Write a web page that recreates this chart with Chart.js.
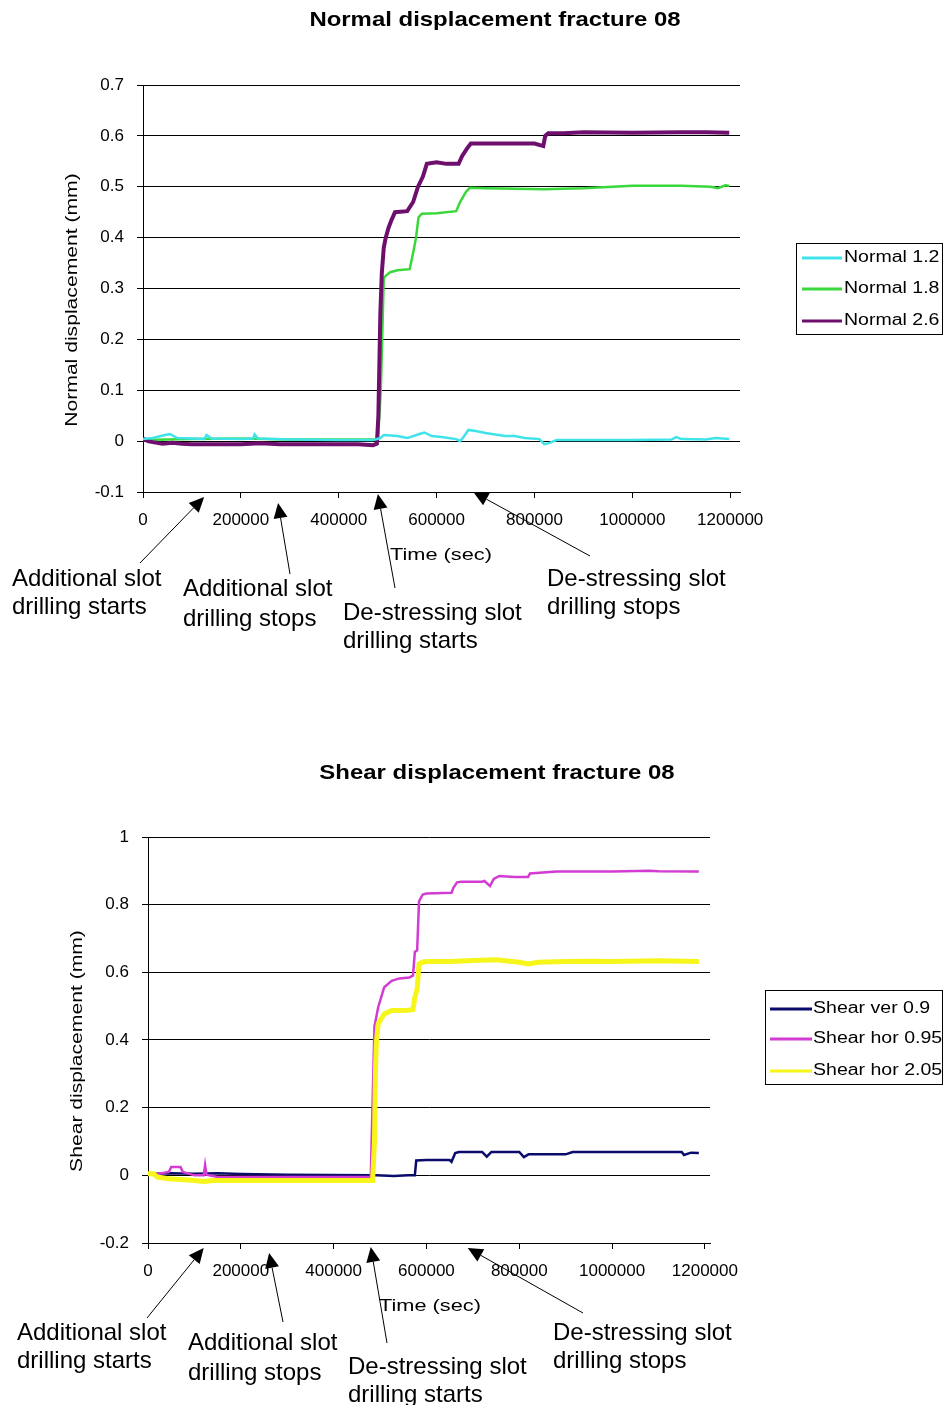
<!DOCTYPE html>
<html>
<head>
<meta charset="utf-8">
<script src="https://cdn.jsdelivr.net/npm/chart.js@4.4.0/dist/chart.umd.min.js"></script>
<style>
  html, body { margin: 0; padding: 0; background: #fff; }
  body { width: 944px; height: 1405px; position: relative; overflow: hidden; }
  .box { position: absolute; left: 0; width: 944px; }
  #box1 { top: 0; height: 700px; }
  #box2 { top: 700px; height: 705px; }
</style>
</head>
<body>
<div class="box" id="box1"><canvas id="normalChart" width="944" height="700"></canvas></div>
<div class="box" id="box2"><canvas id="shearChart" width="944" height="705"></canvas></div>
<script>
// ---------------------------
// Data: fracture 08, time (sec) vs displacement (mm)
// ---------------------------

const n12Time = [0, 20000, 45000, 55000, 70000, 100000, 125000, 130000, 140000, 200000, 225000, 228000, 235000, 300000, 400000, 470000, 485000, 492000, 520000, 540000, 565000, 575000, 590000, 610000, 640000, 648000, 655000, 665000, 680000, 700000, 740000, 760000, 780000, 810000, 820000, 830000, 845000, 900000, 1000000, 1080000, 1090000, 1100000, 1150000, 1170000, 1198000];
const n12Disp = [0.004, 0.006, 0.012, 0.014, 0.006, 0.005, 0.004, 0.012, 0.005, 0.004, 0.005, 0.013, 0.005, 0.003, 0.002, 0.002, 0.006, 0.012, 0.01, 0.006, 0.014, 0.017, 0.01, 0.008, 0.004, 0.0, 0.008, 0.022, 0.02, 0.016, 0.01, 0.01, 0.006, 0.004, -0.006, -0.004, 0.002, 0.002, 0.002, 0.003, 0.008, 0.004, 0.003, 0.006, 0.004];

const n18Time = [0, 50000, 100000, 200000, 300000, 400000, 480000, 486000, 492000, 496000, 505000, 520000, 545000, 552000, 558000, 563000, 570000, 600000, 640000, 648000, 660000, 668000, 700000, 760000, 820000, 900000, 960000, 1000000, 1100000, 1160000, 1175000, 1190000, 1198000];
const n18Disp = [0.002, 0.003, 0.004, 0.005, 0.003, 0.003, 0.003, 0.1, 0.32, 0.325, 0.332, 0.336, 0.338, 0.37, 0.4, 0.44, 0.447, 0.448, 0.452, 0.47, 0.49, 0.498, 0.497, 0.496, 0.495, 0.497, 0.5, 0.502, 0.502, 0.5, 0.497, 0.503, 0.502];

const n26Time = [0, 10000, 20000, 40000, 60000, 80000, 100000, 130000, 160000, 200000, 240000, 280000, 320000, 380000, 440000, 470000, 478000, 481000, 483000, 485000, 488000, 492000, 496000, 502000, 508000, 515000, 540000, 552000, 562000, 572000, 580000, 600000, 620000, 645000, 652000, 662000, 670000, 700000, 760000, 800000, 818000, 822000, 828000, 860000, 900000, 1000000, 1100000, 1150000, 1198000];
const n26Disp = [0.005, 0.0, -0.002, -0.005, -0.003, -0.005, -0.006, -0.006, -0.006, -0.006, -0.004, -0.006, -0.006, -0.006, -0.006, -0.008, -0.005, 0.05, 0.15, 0.25, 0.33, 0.38, 0.4, 0.42, 0.435, 0.45, 0.452, 0.47, 0.5, 0.52, 0.545, 0.548, 0.545, 0.545, 0.56, 0.575, 0.585, 0.585, 0.585, 0.585, 0.58, 0.6, 0.605, 0.605, 0.607, 0.606, 0.607, 0.607, 0.606];

const sv09Time = [0, 50000, 100000, 150000, 200000, 300000, 484000, 492000, 530000, 560000, 575000, 578000, 600000, 650000, 654000, 662000, 670000, 720000, 730000, 740000, 800000, 810000, 820000, 900000, 915000, 1000000, 1150000, 1155000, 1170000, 1187000];
const sv09Disp = [0.004, 0.006, 0.005, 0.006, 0.004, 0.002, 0.0, 0.0, -0.002, 0.0, 0.0, 0.044, 0.045, 0.045, 0.04, 0.066, 0.069, 0.069, 0.055, 0.069, 0.069, 0.054, 0.062, 0.062, 0.069, 0.069, 0.069, 0.06, 0.067, 0.066];

const sh095Time = [0, 20000, 45000, 50000, 70000, 75000, 87000, 100000, 120000, 123000, 126000, 150000, 300000, 480000, 488000, 496000, 509000, 525000, 542000, 563000, 571000, 575000, 580000, 584000, 592000, 600000, 654000, 658000, 666000, 675000, 720000, 725000, 737000, 745000, 757000, 790000, 819000, 823000, 873000, 881000, 1000000, 1080000, 1100000, 1187000];
const sh095Disp = [0.005, 0.004, 0.01, 0.025, 0.025, 0.01, 0.005, 0.0, 0.0, 0.03, 0.002, -0.005, -0.005, -0.005, 0.44, 0.497, 0.556, 0.575, 0.582, 0.585, 0.59, 0.66, 0.665, 0.81, 0.83, 0.833, 0.835, 0.85, 0.866, 0.868, 0.868, 0.87, 0.855, 0.876, 0.885, 0.882, 0.882, 0.892, 0.897, 0.898, 0.898, 0.9, 0.899, 0.898];

const sh205Time = [0, 12000, 20000, 45000, 70000, 100000, 120000, 140000, 211000, 300000, 484000, 488000, 490000, 492000, 496000, 509000, 525000, 560000, 571000, 575000, 580000, 584000, 592000, 600000, 650000, 700000, 750000, 800000, 820000, 840000, 900000, 950000, 1000000, 1100000, 1187000];
const sh205Disp = [0.005, 0.005, -0.005, -0.01, -0.012, -0.015, -0.018, -0.015, -0.015, -0.015, -0.015, 0.1, 0.3, 0.39, 0.448, 0.477, 0.487, 0.488, 0.49, 0.526, 0.55, 0.625, 0.63, 0.632, 0.632, 0.635, 0.637, 0.63, 0.625, 0.63, 0.632, 0.633, 0.632, 0.634, 0.632];

const normalLabels = ["Normal 1.2", "Normal 1.8", "Normal 2.6"];
const shearLabels = ["Shear ver 0.9", "Shear hor 0.95", "Shear hor 2.05"];

const timeTicks = [0, 200000, 400000, 600000, 800000, 1000000, 1200000];
const normalTicks = [-0.1, 0, 0.1, 0.2, 0.3, 0.4, 0.5, 0.6, 0.7];
const shearTicks = [-0.2, 0, 0.2, 0.4, 0.6, 0.8, 1];

// drilling events (sec) the arrows point at
const normalEvents = [125000, 276000, 480000, 675000];
const shearEvents = [120000, 261000, 480000, 689000];
const eventTexts = [
  ["Additional slot", "drilling starts"],
  ["Additional slot", "drilling stops"],
  ["De-stressing slot", "drilling starts"],
  ["De-stressing slot", "drilling stops"]
];

const FONT = "'Liberation Sans', Arial, sans-serif";

function pairs(t, v) {
  return t.map((x, i) => ({ x: x, y: v[i] }));
}

function fmtY(v) {
  return String(Number(v.toFixed(1)));
}

// old excel fonts are wider than Arial, so stretch a bit
function wideText(ctx, text, x, y, sx, align, rot) {
  ctx.save();
  ctx.translate(x, y);
  if (rot) ctx.rotate(rot);
  ctx.scale(sx, 1);
  ctx.textAlign = align;
  ctx.fillText(text, 0, 0);
  ctx.restore();
}

// ---------------------------
// Decorations: title, axis titles, legend, event arrows
// ---------------------------

function decorPlugin(d) {
  return {
    id: "decor",
    afterDraw(chart) {
      const ctx = chart.ctx;
      const xs = chart.scales.x;
      ctx.save();
      ctx.fillStyle = "#000";
      ctx.textBaseline = "middle";

      ctx.font = "bold 21px " + FONT;
      wideText(ctx, d.title, d.titleX, d.titleY, 1.14, "center");

      ctx.font = "16px " + FONT;
      wideText(ctx, d.yTitle, d.yTitleX, d.yTitleY, 1.32, "center", -Math.PI / 2);

      ctx.font = "17px " + FONT;
      wideText(ctx, "Time (sec)", d.xTitleX, d.xTitleY, 1.28, "center");

      // legend
      const lg = d.legend;
      ctx.strokeStyle = "#000";
      ctx.lineWidth = 1;
      ctx.strokeRect(lg.x + 0.5, lg.y + 0.5, lg.w, lg.h);
      ctx.font = "16px " + FONT;
      d.labels.forEach((lab, i) => {
        const ds = chart.data.datasets.find(s => s.label === lab);
        const y = lg.rows[i];
        ctx.strokeStyle = ds.borderColor;
        ctx.lineWidth = 3;
        ctx.beginPath();
        ctx.moveTo(lg.lineX0, y);
        ctx.lineTo(lg.lineX1, y);
        ctx.stroke();
        ctx.fillStyle = "#000";
        wideText(ctx, lab, lg.textX, y, 1.22, "left");
      });

      // event texts + arrows
      ctx.font = "24px " + FONT;
      ctx.textAlign = "left";
      ctx.fillStyle = "#000";
      ctx.strokeStyle = "#000";
      d.events.forEach((t, i) => {
        const a = d.arrows[i];
        const tipX = xs.getPixelForValue(t);
        const tipY = a.tipY;
        const ang = Math.atan2(tipY - a.tailY, tipX - a.tailX);
        const hl = 15, hw = 7;
        const bx = tipX - hl * Math.cos(ang), by = tipY - hl * Math.sin(ang);
        ctx.lineWidth = 1;
        ctx.beginPath();
        ctx.moveTo(a.tailX, a.tailY);
        ctx.lineTo(bx, by);
        ctx.stroke();
        ctx.beginPath();
        ctx.moveTo(tipX, tipY);
        ctx.lineTo(bx + hw * Math.sin(ang), by - hw * Math.cos(ang));
        ctx.lineTo(bx - hw * Math.sin(ang), by + hw * Math.cos(ang));
        ctx.closePath();
        ctx.fill();

        const tx = d.texts[i];
        ctx.fillText(eventTexts[i][0], tx.x, tx.y0);
        ctx.fillText(eventTexts[i][1], tx.x, tx.y1);
      });
      ctx.restore();
    }
  };
}

function makeChart(id, datasets, sc, d) {
  const ctx = document.getElementById(id).getContext("2d");
  return new Chart(ctx, {
    type: "line",
    data: { datasets: datasets },
    options: {
      responsive: false,
      animation: false,
      events: [],
      layout: { padding: { left: 0, right: sc.padRight, top: sc.padTop, bottom: 0 } },
      plugins: { legend: { display: false }, title: { display: false }, tooltip: { enabled: false } },
      elements: { point: { radius: 0 }, line: { tension: 0 } },
      scales: {
        x: {
          type: "linear",
          min: 0,
          max: sc.xMax,
          afterFit: s => { s.height = sc.xHeight; },
          afterBuildTicks: s => { s.ticks = timeTicks.map(v => ({ value: v })); },
          grid: { drawOnChartArea: false, drawTicks: true, tickLength: 6, color: "#000", tickColor: "#000" },
          border: { display: true, color: "#000", width: 1 },
          ticks: {
            autoSkip: false,
            maxRotation: 0,
            padding: 12,
            color: "#000",
            font: { family: FONT, size: 17 },
            callback: v => String(v)
          }
        },
        y: {
          min: sc.yMin,
          max: sc.yMax,
          afterFit: s => { s.width = sc.yWidth; },
          afterBuildTicks: s => { s.ticks = sc.yTicks.map(v => ({ value: v })); },
          grid: { color: "#000", lineWidth: 1, drawTicks: true, tickLength: 6, tickColor: "#000" },
          border: { display: true, color: "#000", width: 1 },
          ticks: {
            autoSkip: false,
            padding: 13,
            color: "#000",
            font: { family: FONT, size: 17 },
            callback: v => fmtY(v)
          }
        }
      }
    },
    plugins: [decorPlugin(d)]
  });
}

// ---------------------------
// Normal displacement chart
// ---------------------------

makeChart("normalChart", [
  { label: normalLabels[0], data: pairs(n12Time, n12Disp), borderColor: "#3fe3ea", borderWidth: 2.5, order: 0 },
  { label: normalLabels[1], data: pairs(n18Time, n18Disp), borderColor: "#3ad83a", borderWidth: 2.5, order: 2 },
  { label: normalLabels[2], data: pairs(n26Time, n26Disp), borderColor: "#6e0f6e", borderWidth: 4, order: 1 }
], {
  padRight: 204, padTop: 85, xHeight: 208, yWidth: 143,
  xMax: 1220000, yMin: -0.1, yMax: 0.7, yTicks: normalTicks
}, {
  title: "Normal displacement fracture 08", titleX: 495, titleY: 20,
  yTitle: "Normal displacement (mm)", yTitleX: 73, yTitleY: 300,
  xTitleX: 441, xTitleY: 555,
  labels: normalLabels,
  legend: { x: 796, y: 243, w: 146, h: 91, rows: [258, 289, 321], lineX0: 802, lineX1: 842, textX: 844 },
  events: normalEvents,
  arrows: [
    { tailX: 140, tailY: 563, tipY: 497 },
    { tailX: 290, tailY: 574, tipY: 503 },
    { tailX: 395, tailY: 588, tipY: 494 },
    { tailX: 590, tailY: 556, tipY: 492 }
  ],
  texts: [
    { x: 12, y0: 579, y1: 607 },
    { x: 183, y0: 589, y1: 619 },
    { x: 343, y0: 613, y1: 641 },
    { x: 547, y0: 579, y1: 607 }
  ]
});

// ---------------------------
// Shear displacement chart
// ---------------------------

makeChart("shearChart", [
  { label: shearLabels[0], data: pairs(sv09Time, sv09Disp), borderColor: "#0b0b6b", borderWidth: 2.5, order: 2 },
  { label: shearLabels[1], data: pairs(sh095Time, sh095Disp), borderColor: "#d23cd2", borderWidth: 2.5, order: 1 },
  { label: shearLabels[2], data: pairs(sh205Time, sh205Disp), borderColor: "#f6f61a", borderWidth: 5, order: 0 }
], {
  padRight: 234, padTop: 137, xHeight: 162, yWidth: 148,
  xMax: 1211000, yMin: -0.2, yMax: 1, yTicks: shearTicks
}, {
  title: "Shear displacement fracture 08", titleX: 497, titleY: 73,
  yTitle: "Shear displacement (mm)", yTitleX: 78, yTitleY: 351,
  xTitleX: 430, xTitleY: 606,
  labels: shearLabels,
  legend: { x: 765, y: 290, w: 177, h: 94, rows: [309, 339, 371], lineX0: 770, lineX1: 812, textX: 813 },
  events: shearEvents,
  arrows: [
    { tailX: 147, tailY: 618, tipY: 548 },
    { tailX: 283, tailY: 622, tipY: 553 },
    { tailX: 387, tailY: 643, tipY: 547 },
    { tailX: 583, tailY: 613, tipY: 548 }
  ],
  texts: [
    { x: 17, y0: 633, y1: 661 },
    { x: 188, y0: 643, y1: 673 },
    { x: 348, y0: 667, y1: 695 },
    { x: 553, y0: 633, y1: 661 }
  ]
});
</script>
</body>
</html>
